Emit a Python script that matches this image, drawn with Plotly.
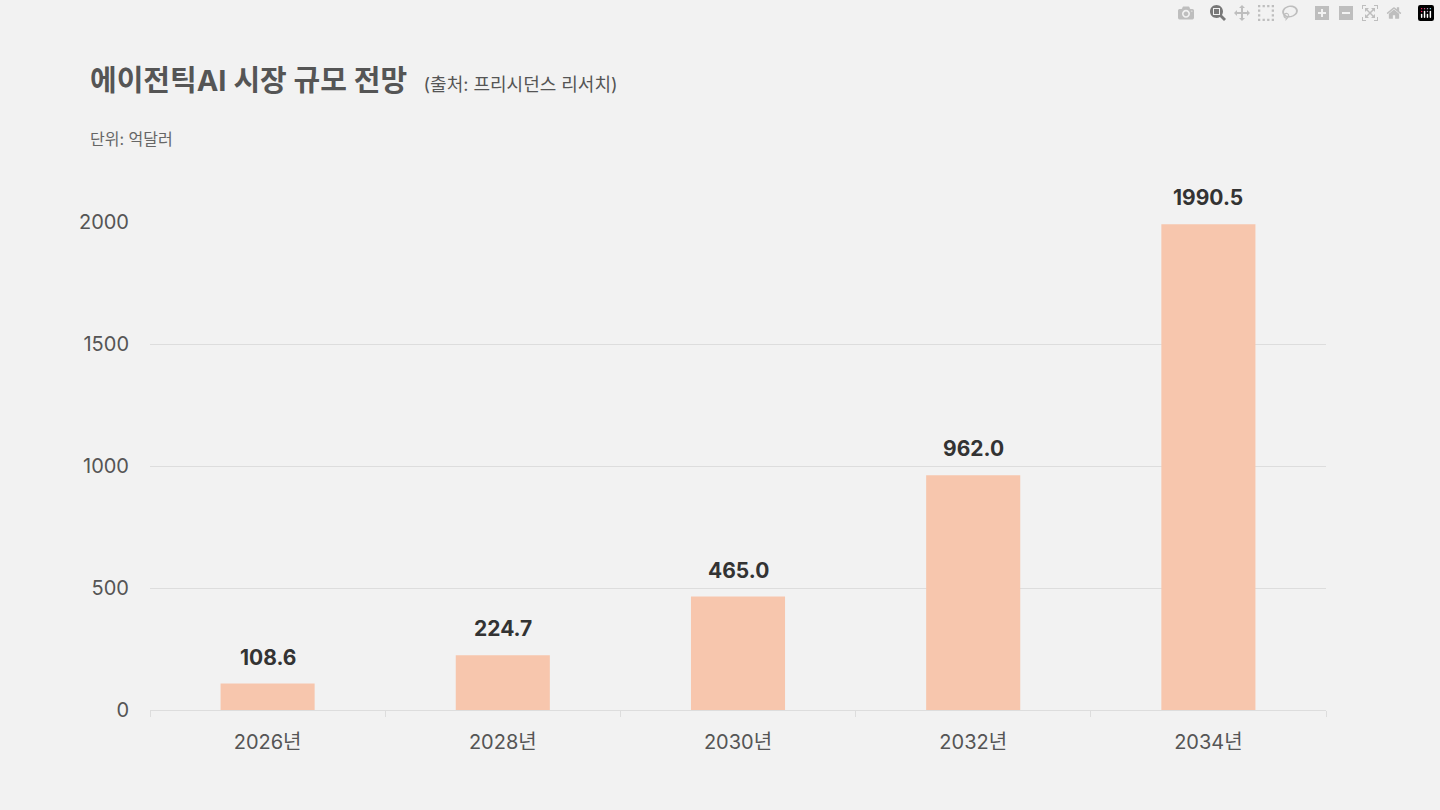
import plotly.graph_objects as go

years = ["2026년", "2028년", "2030년", "2032년", "2034년"]
market_size = [108.6, 224.7, 465.0, 962.0, 1990.5]
y_ticks = [0, 500, 1000, 1500, 2000]

font_family = "Inter, Noto Sans CJK KR, sans-serif"

fig = go.Figure(go.Bar(
    x=years,
    y=market_size,
    width=0.4,
    marker=dict(color="#f7c6ad", line=dict(width=0)),
    hoverinfo="x+y",
))

# value labels above bars
for yr, v in zip(years, market_size):
    fig.add_annotation(x=yr, y=v, text=f"<b>{v:.1f}</b>", showarrow=False,
                       yanchor="bottom", yshift=12,
                       font=dict(size=21, color="#333333"))

fig.update_layout(
    width=1440, height=810,
    paper_bgcolor="#f2f2f2", plot_bgcolor="#f2f2f2",
    margin=dict(l=150, r=114, t=222, b=100),
    font=dict(family=font_family, color="#555555"),
    showlegend=False,
)
fig.add_annotation(
    text="<b>에이전틱AI 시장 규모 전망</b>  <span style='font-size:18px'>(출처: 프리시던스 리서치)</span>",
    xref="paper", yref="paper", x=0, y=1.29, xanchor="left", yanchor="middle",
    xshift=-62, showarrow=False, font=dict(size=29, color="#555555"))
fig.add_annotation(
    text="단위: 억달러", xref="paper", yref="paper", x=0, y=1.17,
    xanchor="left", yanchor="middle", xshift=-62, showarrow=False,
    font=dict(size=16, color="#666666"))

fig.update_yaxes(range=[0, 2000], tickvals=y_ticks, showgrid=True, gridcolor="#dddddd",
                 zeroline=False, showline=False, tickfont=dict(size=20, color="#555555"),
                 ticklabelstandoff=20)
fig.update_xaxes(showline=True, linecolor="#dddddd", ticks="outside", tickcolor="#dddddd",
                 ticklen=6, tickson="boundaries", ticklabelstandoff=14,
                 tickfont=dict(size=20, color="#555555"))

fig.write_html("out.html")

# drop the default page margin so the figure sits at the window origin
with open("out.html", encoding="utf-8") as f:
    page = f.read()
page = page.replace("<body>", "<body style=\"margin:0\">", 1)
with open("out.html", "w", encoding="utf-8") as f:
    f.write(page)
